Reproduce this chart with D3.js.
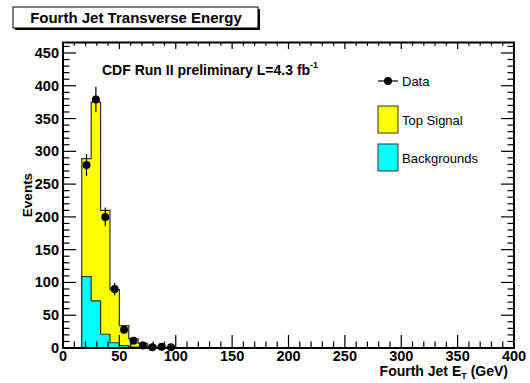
<!DOCTYPE html>
<html>
<head>
<meta charset="utf-8">
<script src="https://cdn.jsdelivr.net/npm/d3@7"></script>
<style>
  body { margin: 0; background: #fff; }
  text { font-family: "Liberation Sans", Arial, Helvetica, sans-serif; }
</style>
</head>
<body>
<svg id="chart" width="530" height="383"></svg>
<script>
// bins are 400/48 GeV wide, first filled bin starts at 2 bin widths
let binWidth = 400 / 48
let firstBin = 2
let totalMC = [289, 375, 210, 89, 34, 14, 7, 3, 1, 0]   // signal + backgrounds (stacked)
let backgrounds = [109, 72, 21, 8, 3.5, 1.5, 0.5, 0, 0, 0]
let dataCounts = [279, 379, 200, 90, 28, 11, 4, 1, 2, 1]
let xTicks = [0, 50, 100, 150, 200, 250, 300, 350, 400]
let yTicks = [0, 50, 100, 150, 200, 250, 300, 350, 400, 450]

let svg = d3.select('#chart')
let padL = 63, padR = 514, padT = 42.5, padB = 348

let x = d3.scaleLinear().domain([0, 400]).range([padL, padR])
let y = d3.scaleLinear().domain([0, 466]).range([padB, padT])

let binLo = i => (firstBin + i) * binWidth

// title box with shadow
svg.append('rect').attr('x', 15).attr('y', 9).attr('width', 245).attr('height', 21).attr('fill', '#000')
svg.append('rect').attr('x', 13).attr('y', 7).attr('width', 245).attr('height', 21)
  .attr('fill', '#fff').attr('stroke', '#000').attr('stroke-width', 1)
svg.append('text').attr('x', 136).attr('y', 23).attr('text-anchor', 'middle')
  .attr('font-size', 15).attr('font-weight', 'bold').text('Fourth Jet Transverse Energy')

// stepped histograms
function stepPoints(vals) {
  let pts = [[binLo(0), 0]]
  vals.forEach((v, i) => {
    pts.push([binLo(i), v])
    pts.push([binLo(i + 1), v])
  })
  pts.push([binLo(vals.length), 0])
  return pts
}

let area = d3.area().x(d => x(d[0])).y0(y(0)).y1(d => y(d[1]))
let line = d3.line().x(d => x(d[0])).y(d => y(d[1]))

;[[totalMC, '#ffff00'], [backgrounds, '#00ffff']].forEach(([vals, col]) => {
  let pts = stepPoints(vals)
  svg.append('path').attr('d', area(pts)).attr('fill', col)
  svg.append('path').attr('d', line(pts)).attr('fill', 'none')
    .attr('stroke', '#333').attr('stroke-width', 1.2)
})

// data points with sqrt(N) errors
let pts = svg.append('g')
dataCounts.forEach((n, i) => {
  let cx = x(binLo(i) + binWidth / 2)
  let err = Math.sqrt(n)
  pts.append('line').attr('x1', cx).attr('x2', cx)
    .attr('y1', y(n + err)).attr('y2', y(Math.max(0, n - err)))
    .attr('stroke', '#000').attr('stroke-width', 1.2)
  pts.append('circle').attr('cx', cx).attr('cy', y(n)).attr('r', 4).attr('fill', '#000')
})

// frame and ticks (ROOT style: on all four sides)
svg.append('rect').attr('x', padL).attr('y', padT).attr('width', padR - padL).attr('height', padB - padT)
  .attr('fill', 'none').attr('stroke', '#000').attr('stroke-width', 2)

let ticks = svg.append('g').attr('stroke', '#000').attr('stroke-width', 1.2)
d3.range(0, 401, 10).forEach(v => {
  let len = v % 50 === 0 ? 13 : 6.5
  ticks.append('line').attr('x1', x(v)).attr('x2', x(v)).attr('y1', padB).attr('y2', padB - len)
  ticks.append('line').attr('x1', x(v)).attr('x2', x(v)).attr('y1', padT).attr('y2', padT + len * 0.5)
})
d3.range(0, 466, 10).forEach(v => {
  let len = v % 50 === 0 ? 13 : 6.5
  ticks.append('line').attr('x1', padL).attr('x2', padL + len).attr('y1', y(v)).attr('y2', y(v))
  ticks.append('line').attr('x1', padR).attr('x2', padR - len).attr('y1', y(v)).attr('y2', y(v))
})

// tick labels
svg.append('g').selectAll('text').data(xTicks).join('text')
  .attr('x', d => x(d)).attr('y', 360.5).attr('text-anchor', 'middle')
  .attr('font-size', 14.5).attr('font-weight', 'bold').text(d => d)
svg.append('g').selectAll('text').data(yTicks).join('text')
  .attr('x', 59).attr('y', d => y(d) + 5).attr('text-anchor', 'end')
  .attr('font-size', 14.5).attr('font-weight', 'bold').text(d => d)

// axis titles
let xt = svg.append('text').attr('x', 508).attr('y', 376).attr('text-anchor', 'end')
  .attr('font-size', 14).attr('font-weight', 'bold')
xt.append('tspan').text('Fourth Jet E')
xt.append('tspan').attr('font-size', 9).attr('dy', 3).text('T')
xt.append('tspan').attr('dy', -3).text(' (GeV)')

svg.append('text').attr('transform', 'translate(32,195) rotate(-90)').attr('text-anchor', 'middle')
  .attr('font-size', 13.5).attr('font-weight', 'bold').text('Events')

// CDF label
let cdf = svg.append('text').attr('x', 102).attr('y', 75).attr('font-size', 14).attr('font-weight', 'bold')
cdf.append('tspan').text('CDF Run II preliminary L=4.3 fb')
cdf.append('tspan').attr('font-size', 9).attr('dy', -7).text('-1')

// legend
let lg = svg.append('g')
lg.append('line').attr('x1', 378).attr('x2', 398).attr('y1', 81).attr('y2', 81).attr('stroke', '#000').attr('stroke-width', 1.2)
lg.append('circle').attr('cx', 388).attr('cy', 81).attr('r', 4).attr('fill', '#000')
lg.append('text').attr('x', 402).attr('y', 85.5).attr('font-size', 13).text('Data')
lg.append('rect').attr('x', 378).attr('y', 106).attr('width', 20).attr('height', 27)
  .attr('fill', '#ffff00').attr('stroke', '#333').attr('stroke-width', 1)
lg.append('text').attr('x', 402).attr('y', 124.5).attr('font-size', 13).text('Top Signal')
lg.append('rect').attr('x', 378).attr('y', 144).attr('width', 20).attr('height', 27)
  .attr('fill', '#00ffff').attr('stroke', '#333').attr('stroke-width', 1)
lg.append('text').attr('x', 402).attr('y', 162.5).attr('font-size', 13).text('Backgrounds')
</script>
</body>
</html>
